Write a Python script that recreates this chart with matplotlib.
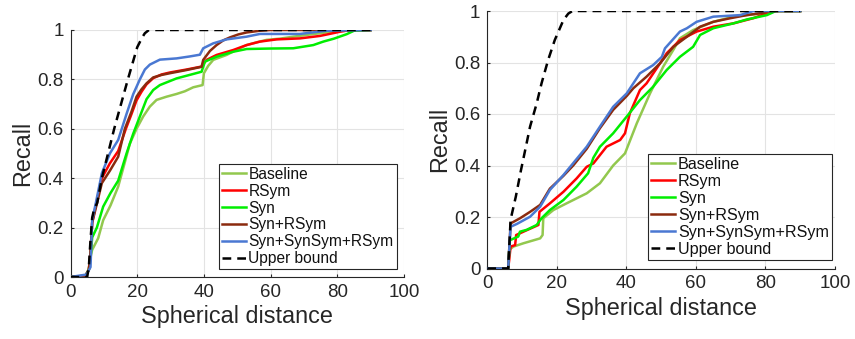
import matplotlib
matplotlib.use("Agg")
import matplotlib.pyplot as plt

plt.rcParams['font.family'] = ['Liberation Sans', 'DejaVu Sans']

labels = ["Baseline", "RSym", "Syn", "Syn+RSym", "Syn+SynSym+RSym", "Upper bound"]
colors = ["#92C84E", "#FF0000", "#00EE00", "#8B2A0E", "#4A78D2", "#000000"]

# ---------------- Left panel ----------------
L_base_x = [0, 4.5, 5.5, 6.0, 6.5, 8.3, 9.8, 12, 14.3, 16, 17.8, 19.8, 21.8, 23.8, 25.8, 28.8, 31.8, 34.3, 36.8, 39.6, 40.0, 41.3, 42.8, 46.8, 49.8, 52.8, 55.8, 58.8, 62.8, 66.8, 70.8, 74.8, 80.8, 85, 90]
L_base_y = [0, 0.005, 0.03, 0.08, 0.11, 0.157, 0.23, 0.29, 0.366, 0.45, 0.54, 0.6, 0.65, 0.69, 0.717, 0.73, 0.741, 0.752, 0.768, 0.777, 0.825, 0.855, 0.879, 0.899, 0.92, 0.939, 0.95, 0.96, 0.965, 0.973, 0.98, 0.987, 0.997, 1.0, 1.0]

L_rsym_x = [0, 4.5, 5.5, 6.0, 6.5, 7.6, 9.4, 11.8, 14.3, 16.6, 18.3, 19.8, 21.3, 22.8, 24.8, 27.3, 29.8, 34.8, 39.3, 39.8, 40.8, 43.8, 48.8, 52.8, 56.8, 61.8, 68.8, 74.8, 78, 80.8, 84, 90]
L_rsym_y = [0, 0.005, 0.03, 0.1, 0.22, 0.29, 0.4, 0.46, 0.51, 0.6, 0.66, 0.715, 0.75, 0.78, 0.805, 0.82, 0.828, 0.84, 0.852, 0.862, 0.879, 0.899, 0.919, 0.939, 0.953, 0.962, 0.966, 0.976, 0.985, 0.993, 1.0, 1.0]

L_syn_x = [0, 4.5, 5.5, 6.0, 6.5, 7.9, 9.8, 12, 14.3, 16.8, 18.8, 20.8, 22.8, 24.8, 26.8, 31.8, 36.8, 39.3, 40.3, 43.8, 48.8, 52.8, 60, 66.8, 72.8, 75.8, 79, 82.8, 85, 90]
L_syn_y = [0, 0.005, 0.03, 0.08, 0.16, 0.20, 0.285, 0.34, 0.39, 0.50, 0.58, 0.65, 0.72, 0.757, 0.777, 0.804, 0.822, 0.831, 0.872, 0.892, 0.912, 0.923, 0.925, 0.926, 0.939, 0.953, 0.965, 0.983, 0.997, 1.0]

L_synrsym_x = [0, 4.5, 5.5, 6.0, 6.5, 7.6, 9.4, 11.8, 14.3, 16.3, 18.3, 19.8, 21.3, 22.8, 24.8, 27.3, 29.8, 34.8, 39.3, 39.8, 41.8, 43.8, 45.8, 47.8, 50.3, 52.8, 56.8, 60, 90]
L_synrsym_y = [0, 0.005, 0.03, 0.1, 0.22, 0.28, 0.38, 0.43, 0.487, 0.6, 0.67, 0.73, 0.76, 0.784, 0.808, 0.818, 0.825, 0.838, 0.851, 0.879, 0.915, 0.939, 0.958, 0.970, 0.982, 0.99, 0.997, 1.0, 1.0]

L_all_x = [0, 4.8, 6.0, 6.5, 7.6, 9.4, 11.8, 14.3, 16.8, 18.8, 20.8, 22.3, 23.8, 26.8, 31.8, 35.8, 38.8, 39.8, 42.8, 46.8, 52.8, 56.8, 68.8, 76.8, 90]
L_all_y = [0, 0.01, 0.04, 0.23, 0.30, 0.42, 0.5, 0.555, 0.66, 0.74, 0.80, 0.84, 0.86, 0.88, 0.885, 0.893, 0.90, 0.926, 0.946, 0.962, 0.973, 0.984, 0.984, 0.997, 1.0]

L_ub_x = [0, 5, 5.5, 6, 6.5, 7, 8, 9.4, 13.1, 17.2, 20, 21.5, 22.3, 23.5, 90]
L_ub_y = [0, 0, 0.04, 0.15, 0.24, 0.27, 0.30, 0.4, 0.6, 0.8, 0.93, 0.97, 0.987, 1.0, 1.0]

# ---------------- Right panel ----------------
R_base_x = [0, 6.0, 6.3, 7.5, 10.4, 15.2, 15.9, 16.1, 19, 22.8, 28.6, 32.4, 36.2, 39.6, 43, 46.8, 50.6, 53.5, 55.4, 59.2, 65, 70.8, 78.4, 80, 90]
R_base_y = [0, 0, 0.072, 0.085, 0.098, 0.117, 0.13, 0.195, 0.227, 0.253, 0.292, 0.331, 0.40, 0.447, 0.564, 0.68, 0.784, 0.849, 0.894, 0.926, 0.958, 0.978, 0.99, 1.0, 1.0]

R_rsym_x = [0, 6.0, 6.3, 6.7, 8.0, 8.3, 10.4, 14.7, 15.0, 18, 21.9, 25.7, 28.6, 30.5, 34.3, 38.2, 39.6, 41.0, 43.9, 45.8, 48.7, 51.6, 55.4, 60.2, 65, 70.8, 76.5, 80.4, 82, 90]
R_rsym_y = [0, 0, 0.033, 0.085, 0.091, 0.13, 0.143, 0.169, 0.22, 0.253, 0.298, 0.35, 0.395, 0.408, 0.473, 0.499, 0.525, 0.603, 0.693, 0.719, 0.777, 0.836, 0.887, 0.92, 0.939, 0.952, 0.972, 0.991, 1.0, 1.0]

R_syn_x = [0, 6.0, 6.5, 8.9, 9.4, 11.3, 14.2, 15.6, 18, 21.9, 25.7, 29, 30.5, 32.4, 36.2, 40.1, 43.9, 47.7, 51.6, 55.4, 59.2, 61.2, 65, 70.8, 74.6, 80.4, 83, 90]
R_syn_y = [0, 0, 0.11, 0.124, 0.143, 0.15, 0.169, 0.195, 0.227, 0.266, 0.318, 0.37, 0.43, 0.473, 0.525, 0.59, 0.654, 0.706, 0.771, 0.822, 0.861, 0.907, 0.933, 0.952, 0.967, 0.984, 1.0, 1.0]

R_synrsym_x = [0, 6.0, 6.7, 9.4, 12.3, 15.2, 18, 21.9, 24.7, 28.6, 32.4, 36.2, 40.1, 42, 45.8, 49.7, 53.5, 57.4, 61.2, 65, 69.9, 74.6, 79.4, 81, 90]
R_synrsym_y = [0, 0, 0.175, 0.195, 0.22, 0.247, 0.31, 0.36, 0.40, 0.465, 0.545, 0.616, 0.67, 0.70, 0.745, 0.797, 0.861, 0.90, 0.939, 0.958, 0.972, 0.984, 0.993, 1.0, 1.0]

R_all_x = [0, 3.2, 6.0, 6.7, 8.5, 12.3, 15.2, 18, 21.9, 24.7, 28.6, 32.4, 36.2, 40.1, 43.9, 47.7, 50.2, 51.1, 55.4, 57.4, 60.2, 65, 72.7, 76.5, 90]
R_all_y = [0, 0, 0, 0.162, 0.173, 0.201, 0.24, 0.305, 0.363, 0.409, 0.473, 0.551, 0.628, 0.68, 0.758, 0.79, 0.822, 0.855, 0.92, 0.933, 0.958, 0.978, 0.984, 1.0, 1.0]

R_ub_x = [0, 6, 6.7, 8.2, 9.7, 11.1, 12.3, 14.2, 15.6, 17.5, 19.4, 21.9, 23.3, 24.5, 90]
R_ub_y = [0, 0, 0.19, 0.279, 0.383, 0.473, 0.551, 0.641, 0.719, 0.81, 0.887, 0.965, 0.99, 1.0, 1.0]

x_ticks = [0, 20, 40, 60, 80, 100]
y_ticks = [0, 0.2, 0.4, 0.6, 0.8, 1]
y_ticklabels = ["0", "0.2", "0.4", "0.6", "0.8", "1"]

TXT = "#262626"
W, H = 855, 339
fig = plt.figure(figsize=(W / 100, H / 100), dpi=100)

def px_axes(x0, x1, y0, y1):
    return fig.add_axes([x0 / W, 1 - y1 / H, (x1 - x0) / W, (y1 - y0) / H])

axL = px_axes(70.5, 404.0, 30.0, 277.0)
axR = px_axes(487.3, 835.0, 11.0, 268.5)

panels = [
    (axL, [(L_base_x, L_base_y), (L_rsym_x, L_rsym_y), (L_syn_x, L_syn_y),
           (L_synrsym_x, L_synrsym_y), (L_all_x, L_all_y), (L_ub_x, L_ub_y)],
     (396.7, 269.3), 11.2),
    (axR, [(R_base_x, R_base_y), (R_rsym_x, R_rsym_y), (R_syn_x, R_syn_y),
           (R_synrsym_x, R_synrsym_y), (R_all_x, R_all_y), (R_ub_x, R_ub_y)],
     (832.0, 260.0), 11.6),
]

for ax, series, (lx, ly), lfs in panels:
    for i, (xs, ys) in enumerate(series):
        if i == 5:
            ax.plot(xs, ys, color=colors[i], lw=1.8, ls=(0, (3.5, 2.4)), label=labels[i], zorder=3 + i)
        else:
            ax.plot(xs, ys, color=colors[i], lw=1.8, label=labels[i], zorder=3 + i)
    ax.set_xlim(0, 100)
    ax.set_ylim(0, 1)
    ax.set_xticks(x_ticks)
    ax.set_yticks(y_ticks)
    ax.set_yticklabels(y_ticklabels)
    ax.grid(True, color="#E3E3E3", lw=0.8)
    ax.set_axisbelow(True)
    for s in ["top", "right"]:
        ax.spines[s].set_visible(False)
    for s in ["left", "bottom"]:
        ax.spines[s].set_color(TXT)
        ax.spines[s].set_linewidth(0.8)
    ax.tick_params(direction="in", length=2.5, width=0.8, color=TXT,
                   labelcolor=TXT, labelsize=13.5, pad=5)
    ax.set_xlabel("Spherical distance", fontsize=16.8, color=TXT, labelpad=3)
    ax.set_ylabel("Recall", fontsize=16.8, color=TXT, labelpad=2)
    bb = ax.get_position()
    ax_x0 = bb.x0 * W
    ax_w = bb.width * W
    ax_y1 = (1 - bb.y0) * H
    ax_h = bb.height * H
    anchor = ((lx - ax_x0) / ax_w, (ax_y1 - ly) / ax_h)
    leg = ax.legend(loc="lower right", bbox_to_anchor=anchor, borderaxespad=0,
                    fontsize=lfs, handlelength=1.5, handletextpad=0.17,
                    labelspacing=0.12, borderpad=0.2, fancybox=False,
                    framealpha=1, edgecolor=TXT)
    leg.get_frame().set_linewidth(0.8)
    for t in leg.get_texts():
        t.set_color("#111111")

fig.savefig("out.png", dpi=100)
